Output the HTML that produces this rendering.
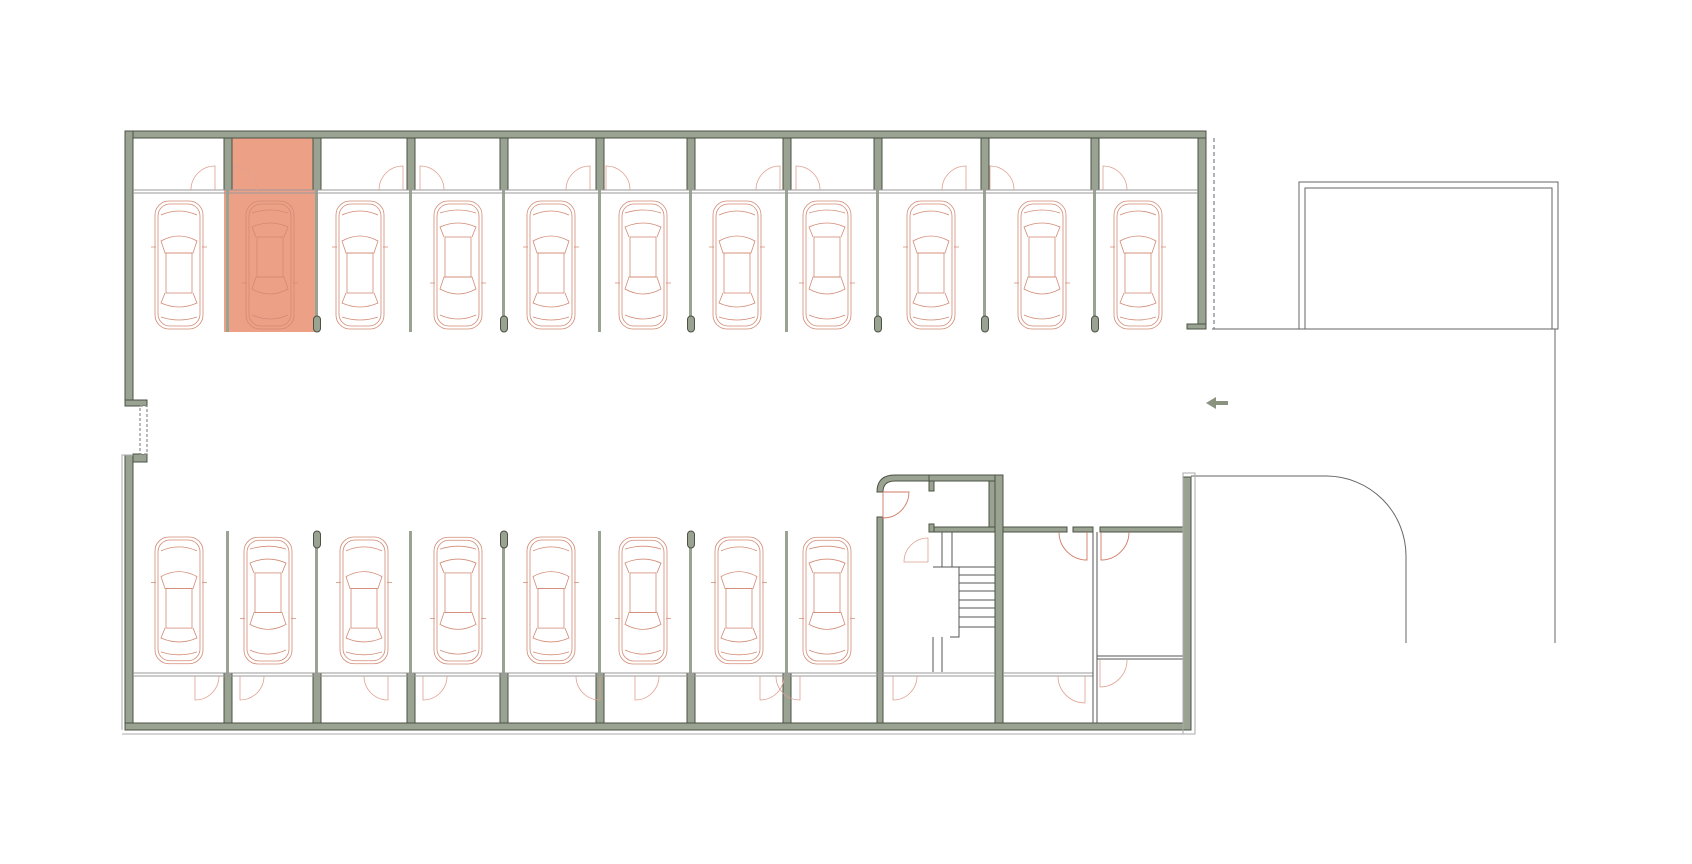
<!DOCTYPE html>
<html><head><meta charset="utf-8"><style>html,body{margin:0;padding:0;background:#fff}svg{display:block}</style></head>
<body>
<svg width="1692" height="864" viewBox="0 0 1692 864" xmlns="http://www.w3.org/2000/svg">
<defs>
<g id="car" stroke="#d28a74" stroke-width="0.8" fill="none">
<rect x="-24" y="0" width="48" height="128" rx="14"/>
<rect x="-21" y="3" width="42" height="122" rx="12"/>
<path d="M-18 40 Q0 30 18 40 L14 52 L-14 52 Z"/>
<rect x="-13" y="52" width="26" height="40"/>
<path d="M-14 92 L-18 102 Q0 110 18 102 L14 92"/>
<path d="M-18 14 Q0 6 18 14 M-18 116 Q0 122 18 116"/>
<path d="M-28 46 h5 M23 46 h5"/>
</g>
</defs>
<rect x="224" y="138" width="93" height="194" fill="#eca086"/>
<g fill="#9aa292" stroke="#4b5345" stroke-width="1">
<rect x="125" y="131" width="1081" height="7"/>
<rect x="125" y="131" width="8" height="270"/>
<rect x="125" y="400" width="22" height="6"/>
<rect x="133" y="454" width="14" height="8"/>
<rect x="125" y="455" width="8" height="275"/>
<rect x="125" y="723" width="1066" height="7"/>
<rect x="1198" y="138" width="8" height="191"/>
<rect x="1187" y="324" width="19" height="5"/>
<rect x="1183" y="477" width="8" height="253"/>
<rect x="877" y="517" width="6" height="206"/>
<path d="M877 492 Q877 475 895 475 L935 475 L935 481 L895 481 Q883 481 883 492 Z"/>
<rect x="929" y="475" width="73" height="6"/>
<rect x="995" y="475" width="8" height="248"/>
<rect x="989" y="481" width="6" height="51"/>
<rect x="929" y="481" width="5" height="10"/>
<rect x="929" y="524" width="5" height="8"/>
<rect x="934" y="527" width="61" height="5"/>
<rect x="1003" y="527" width="64" height="5"/>
<rect x="1100" y="527" width="83" height="5"/>
<rect x="1073" y="527" width="20" height="5"/>
<!-- top partitions -->
<rect x="224" y="138" width="8" height="52"/><rect x="313" y="138" width="8" height="52"/><rect x="407" y="138" width="8" height="52"/><rect x="500" y="138" width="8" height="52"/><rect x="596" y="138" width="8" height="52"/><rect x="687" y="138" width="8" height="52"/><rect x="783" y="138" width="8" height="52"/><rect x="874" y="138" width="8" height="52"/><rect x="981" y="138" width="8" height="52"/><rect x="1091" y="138" width="8" height="52"/>
<!-- bottom partitions -->
<rect x="224" y="673" width="8" height="50"/><rect x="313" y="673" width="8" height="50"/><rect x="407" y="673" width="8" height="50"/><rect x="500" y="673" width="8" height="50"/><rect x="596" y="673" width="8" height="50"/><rect x="687" y="673" width="8" height="50"/><rect x="783" y="673" width="8" height="50"/>
</g>
<g fill="#9aa292">
<rect x="226" y="190" width="3" height="142"/><rect x="315" y="190" width="3" height="142"/><rect x="409" y="190" width="3" height="142"/><rect x="502" y="190" width="3" height="142"/><rect x="598" y="190" width="3" height="142"/><rect x="689" y="190" width="3" height="142"/><rect x="785" y="190" width="3" height="142"/><rect x="876" y="190" width="3" height="142"/><rect x="983" y="190" width="3" height="142"/><rect x="1093" y="190" width="3" height="142"/>
<rect x="226" y="531" width="3" height="142"/><rect x="315" y="531" width="3" height="142"/><rect x="409" y="531" width="3" height="142"/><rect x="502" y="531" width="3" height="142"/><rect x="598" y="531" width="3" height="142"/><rect x="689" y="531" width="3" height="142"/><rect x="785" y="531" width="3" height="142"/>
</g>
<g fill="#9aa292" stroke="#4b5345">
<rect x="313.5" y="316" width="7" height="16" rx="3.5"/><rect x="500.5" y="316" width="7" height="16" rx="3.5"/><rect x="687.5" y="316" width="7" height="16" rx="3.5"/><rect x="874.5" y="316" width="7" height="16" rx="3.5"/><rect x="981.5" y="316" width="7" height="16" rx="3.5"/><rect x="1091.5" y="316" width="7" height="16" rx="3.5"/>
<rect x="313.5" y="531" width="7" height="17" rx="3.5"/><rect x="500.5" y="531" width="7" height="17" rx="3.5"/><rect x="687.5" y="531" width="7" height="17" rx="3.5"/>
</g>
<rect x="140" y="406" width="7" height="48" fill="#fff" stroke="#777" stroke-dasharray="3 2"/>
<path d="M133 190 H1198 M133 193 H1198 M133 673 H995 M133 676 H995 M1003 673 H1093 M1003 676 H1093" stroke="#999" stroke-width="1"/>
<!-- cars top -->
<use href="#car" transform="translate(179,201)"/>
<use href="#car" transform="translate(270,329) scale(1,-1)"/>
<use href="#car" transform="translate(360,201)"/>
<use href="#car" transform="translate(458,329) scale(1,-1)"/>
<use href="#car" transform="translate(551,201)"/>
<use href="#car" transform="translate(643,329) scale(1,-1)"/>
<use href="#car" transform="translate(737,201)"/>
<use href="#car" transform="translate(827,329) scale(1,-1)"/>
<use href="#car" transform="translate(931,201)"/>
<use href="#car" transform="translate(1042,329) scale(1,-1)"/>
<use href="#car" transform="translate(1138,201)"/>
<!-- cars bottom -->
<use href="#car" transform="translate(179,537) scale(1,0.99)"/>
<use href="#car" transform="translate(268,664) scale(1,-0.99)"/>
<use href="#car" transform="translate(364,537) scale(1,0.99)"/>
<use href="#car" transform="translate(458,664) scale(1,-0.99)"/>
<use href="#car" transform="translate(551,537) scale(1,0.99)"/>
<use href="#car" transform="translate(643,664) scale(1,-0.99)"/>
<use href="#car" transform="translate(739,537) scale(1,0.99)"/>
<use href="#car" transform="translate(827,664) scale(1,-0.99)"/>
<!-- doors -->
<g stroke="#e0a090" stroke-width="0.8" fill="none">
<path d="M215 190 V166 A24 24 0 0 0 191 190 M233 190 V166 A24 24 0 0 1 257 190 M403 190 V166 A24 24 0 0 0 379 190 M420 190 V166 A24 24 0 0 1 444 190 M590 190 V166 A24 24 0 0 0 566 190 M606 190 V166 A24 24 0 0 1 630 190 M780 190 V166 A24 24 0 0 0 756 190 M796 190 V166 A24 24 0 0 1 820 190 M966 190 V166 A24 24 0 0 0 942 190 M990 190 V166 A24 24 0 0 1 1014 190 M1103 190 V166 A24 24 0 0 1 1127 190"/>
<path d="M195 676 V700 A24 24 0 0 0 219 676 M240 676 V700 A24 24 0 0 0 264 676 M388 676 V700 A24 24 0 0 1 364 676 M423 676 V700 A24 24 0 0 0 447 676 M600 676 V700 A24 24 0 0 1 576 676 M635 676 V700 A24 24 0 0 0 659 676 M760 676 V700 A24 24 0 0 0 784 676 M800 676 V700 A24 24 0 0 1 776 676 M893 676 V700 A24 24 0 0 0 917 676"/>
<path d="M1085 676 V703 A27 27 0 0 1 1058 676 M1100 660 V687 A27 27 0 0 0 1127 660 M928 538 V562 H904 A24 24 0 0 1 928 538"/>
</g>
<path d="M1087 532 V560 A28 28 0 0 1 1059 532 M1101 532 V560 A28 28 0 0 0 1129 532 M883 492 H909 A26 26 0 0 1 883 518 Z" stroke="#d07a64" stroke-width="0.9" fill="none"/>
<!-- stairs -->
<g stroke="#555" stroke-width="1" fill="none">
<path d="M959 567 H995 M959 575 H995 M959 583 H995 M959 591 H995 M959 600 H995 M959 608 H995 M959 617 H995 M959 627 H995"/>
<path d="M959 567 V637 H950 M942 532 V567 M952 532 V567 M933 567 H995 M933 637 V672 M942 637 V672"/>
<path d="M1093 532 V723 M1097 532 V723 M1097 656 H1183 M1097 659 H1183"/>
</g>
<g stroke="#666" stroke-width="1" fill="none">
<rect x="1299" y="182" width="259" height="147"/>
<rect x="1305" y="188" width="247" height="141"/>
<path d="M1212 329 H1555 M1555 329 V643"/>
<path d="M1191 476 H1327 A80 80 0 0 1 1406 556 V643"/>
<path d="M1214 138 V329" stroke-dasharray="4 3"/>
<rect x="1183" y="473" width="12" height="261" stroke="#aaa"/>
<path d="M122 730 V455 H133 M122 734 H1195" stroke="#aaa"/>
</g>
<path d="M1228 403 H1212" stroke="#8a9280" stroke-width="4"/>
<path d="M1206 403 L1216 397 V409 Z" fill="#8a9280"/>
</svg>
</body></html>
